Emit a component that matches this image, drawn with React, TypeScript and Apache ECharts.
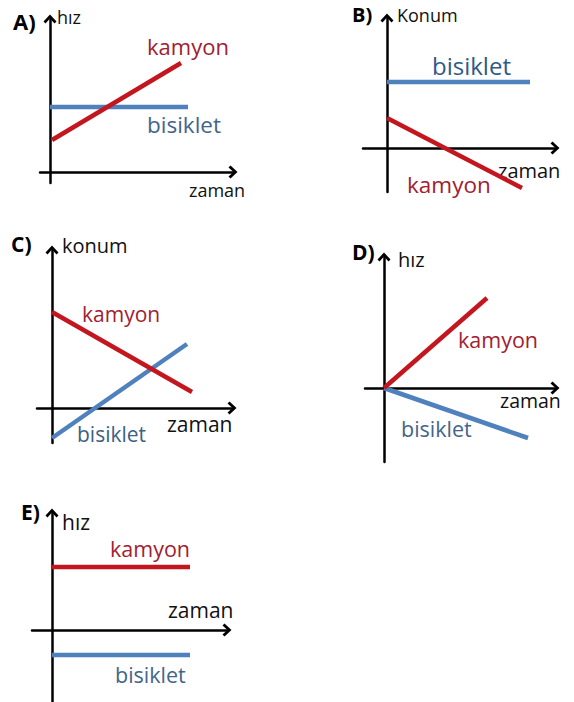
import React, { useEffect, useRef } from "react";
import * as echarts from "echarts";

// ---- data (units of the hand-drawn sketch, origin at the axes crossing) ----
const panelLetters = ["A)", "B)", "C)", "D)", "E)"];
const yAxisNames = ["hız", "Konum", "konum", "hız", "hız"];
const xAxisName = "zaman";
const seriesNames = ["kamyon", "bisiklet"];

const kamyonA = [[0.2, 3.2], [13.1, 10.9]];
const bisikletA = [[0, 6.5], [13.8, 6.5]];
const kamyonB = [[0, 3.0], [13.5, -4.0]];
const bisikletB = [[0, 6.6], [14.3, 6.6]];
const kamyonC = [[0, 9.6], [14.0, 1.6]];
const bisikletC = [[0, -3.0], [13.5, 6.4]];
const kamyonD = [[0, 0], [10.3, 9.0]];
const bisikletD = [[0, 0], [14.4, -5.0]];
const kamyonE = [[0, 6.3], [13.8, 6.3]];
const bisikletE = [[0, -2.5], [13.8, -2.5]];

const kamyonData = [kamyonA, kamyonB, kamyonC, kamyonD, kamyonE];
const bisikletData = [bisikletA, bisikletB, bisikletC, bisikletD, bisikletE];

// ---- layout (pixels) ----
const PX = 10; // pixels per sketch unit
const layout = [
  { ox: 50, oy: 172, left: 40, right: 233, top: 19, bottom: 183 },
  { ox: 387, oy: 148, left: 363, right: 555, top: 18, bottom: 192 },
  { ox: 52, oy: 408, left: 37, right: 232, top: 250, bottom: 443 },
  { ox: 384, oy: 388, left: 365, right: 555, top: 257, bottom: 462 },
  { ox: 52, oy: 630, left: 32, right: 227, top: 513, bottom: 702 },
];
// label positions: [x, baseline, fontSize]
const letterPos = [[13, 30, 22], [352, 22, 20], [11, 252, 21], [352, 260, 21], [21, 520, 21]];
const yNamePos = [[57, 24, 18], [397, 22, 18], [62, 253, 20], [398, 267, 20], [62, 530, 21]];
const xNamePos = [[189, 197, 18], [498, 178, 20], [167, 432, 21], [500, 408, 19.5], [168, 618, 21]];
const kamyonPos = [[147, 55, 22], [407, 193, 22.5], [82, 322, 21], [458, 348, 21.5], [110, 557, 21.5]];
const bisikletPos = [[147, 133, 22.5], [432, 75, 24], [77, 442, 21], [401, 437, 21.5], [115, 683, 21.5]];

const RED_LINE = "#C3161E";
const RED_TEXT = "#A2202F";
const BLUE_LINE = "#4F81BD";
const BLUE_TEXT = ["#44658A", "#2F5986", "#3E5F86", "#44658A", "#44658A"];
const FONT = "'Open Sans', 'Noto Sans', sans-serif";
const ARROW = "path://M6.5 0 L13 7 L11 9 L6.5 4 L2 9 L0 7 Z";

function txt(text: string, p: number[], fill: string, bold = false) {
  const fs = p[2];
  return {
    type: "text",
    silent: true,
    style: {
      text,
      x: p[0],
      y: p[1] - 0.388 * fs,
      fill,
      font: `${bold ? "bold " : ""}${fs}px ${FONT}`,
      verticalAlign: "middle",
      align: "left",
    },
  };
}

export default function App() {
  const ref = useRef<HTMLDivElement>(null);
  useEffect(() => {
    document.body.style.margin = "0";
    const chart = echarts.init(ref.current!, null, { renderer: "svg" });
    const grid: any[] = [];
    const xAxis: any[] = [];
    const yAxis: any[] = [];
    const series: any[] = [];
    const graphic: any[] = [];
    layout.forEach((L, i) => {
      grid.push({ left: L.left, top: L.top, width: L.right - L.left, height: L.bottom - L.top });
      const axisCommon = {
        type: "value",
        gridIndex: i,
        splitLine: { show: false },
        axisTick: { show: false },
        axisLabel: { show: false },
        axisLine: {
          show: true,
          onZero: true,
          symbol: ["none", ARROW],
          symbolSize: [13, 9],
          lineStyle: { color: "#000", width: 2.5 },
        },
      };
      xAxis.push({ ...axisCommon, min: (L.left - L.ox) / PX, max: (L.right - L.ox) / PX });
      yAxis.push({ ...axisCommon, min: -(L.bottom - L.oy) / PX, max: (L.oy - L.top) / PX });
      series.push({
        type: "line",
        name: seriesNames[1],
        xAxisIndex: i,
        yAxisIndex: i,
        data: bisikletData[i],
        symbol: "none",
        lineStyle: { color: BLUE_LINE, width: 4.5, cap: "butt" },
        z: 3,
      });
      series.push({
        type: "line",
        name: seriesNames[0],
        xAxisIndex: i,
        yAxisIndex: i,
        data: kamyonData[i],
        symbol: "none",
        lineStyle: { color: RED_LINE, width: 4.5, cap: "butt" },
        z: 4,
      });
      graphic.push(txt(panelLetters[i], letterPos[i], "#000", true));
      graphic.push(txt(yAxisNames[i], yNamePos[i], "#111"));
      graphic.push(txt(xAxisName, xNamePos[i], "#111"));
      graphic.push(txt(seriesNames[0], kamyonPos[i], RED_TEXT));
      graphic.push(txt(seriesNames[1], bisikletPos[i], BLUE_TEXT[i]));
    });
    chart.setOption({
      animation: false,
      backgroundColor: "#fff",
      grid,
      xAxis,
      yAxis,
      series,
      graphic,
    });
    return () => chart.dispose();
  }, []);
  return (
    <div
      ref={ref}
      style={{ position: "fixed", left: 0, top: 0, width: 574, height: 702 }}
    />
  );
}
